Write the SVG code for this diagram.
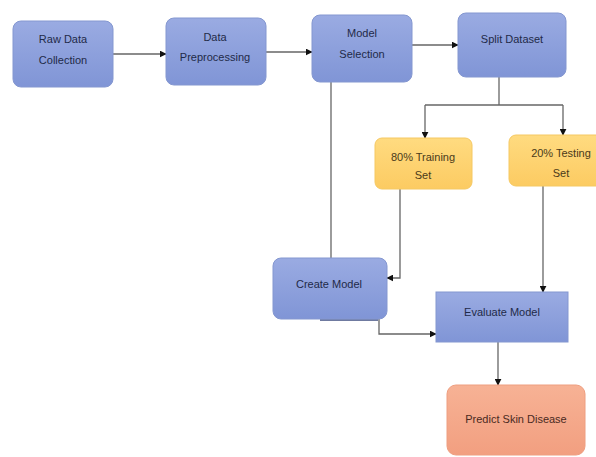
<svg xmlns="http://www.w3.org/2000/svg" width="596" height="457" viewBox="0 0 596 457">
<defs>
<linearGradient id="gBlue" x1="0" y1="0" x2="0" y2="1"><stop offset="0" stop-color="#9AABE2"/><stop offset="1" stop-color="#8095D6"/></linearGradient>
<linearGradient id="gYellow" x1="0" y1="0" x2="0" y2="1"><stop offset="0" stop-color="#FFDB80"/><stop offset="1" stop-color="#FCCB62"/></linearGradient>
<linearGradient id="gSalmon" x1="0" y1="0" x2="0" y2="1"><stop offset="0" stop-color="#F7B295"/><stop offset="1" stop-color="#F29F80"/></linearGradient>
<marker id="arr" viewBox="0 0 10 10" refX="9" refY="5" markerWidth="7" markerHeight="7" orient="auto" markerUnits="userSpaceOnUse"><path d="M0,0 L10,5 L0,10 z" fill="#111"/></marker>
</defs>
<style>
.blue{fill:url(#gBlue);stroke:#8497D0;stroke-width:1}
.yellow{fill:url(#gYellow);stroke:#F5C862;stroke-width:1}
.salmon{fill:url(#gSalmon);stroke:#EE9E80;stroke-width:1}
.t{font-family:"Liberation Sans",Arial,sans-serif;font-size:11px;text-anchor:middle;fill:#1F2A48}
.ty{font-family:"Liberation Sans",Arial,sans-serif;font-size:11px;text-anchor:middle;fill:#4A3A1A}
.ts{font-family:"Liberation Sans",Arial,sans-serif;font-size:11px;text-anchor:middle;fill:#4A2A22}
.c{fill:none;stroke:#666;stroke-width:1.3}
.ca{fill:none;stroke:#666;stroke-width:1.3;marker-end:url(#arr)}
</style>
<rect width="596" height="457" fill="#FFFFFF"/>
<g id="connectors">
<path class="ca" d="M113,54 L166,54"/>
<path class="ca" d="M266,52 L312,52"/>
<path class="ca" d="M412,45 L458,45"/>
<path class="c" d="M499,77 L499,105"/>
<path class="c" d="M425,105 L563,105"/>
<path class="ca" d="M425,105 L425,138"/>
<path class="ca" d="M563,105 L563,135"/>
<path class="c" d="M331,82 L331,258"/>
<path class="ca" d="M400,189 L400,278 L387,278"/>
<path class="ca" d="M543,186 L543,292"/>
<path class="ca" d="M379,319 L379,334 L436,334"/>
<path class="ca" d="M498,342 L498,385"/>
<path d="M320,320 L378,320" stroke="#3F4E80" stroke-width="1.5" fill="none"/>
</g>
<g id="raw">
<rect class="blue" x="13" y="21" width="100" height="66" rx="8"/>
<text class="t" x="63" y="43">Raw Data</text>
<text class="t" x="63" y="64">Collection</text>
</g>
<g id="preprocessing">
<rect class="blue" x="166" y="18" width="100" height="67" rx="8"/>
<text class="t" x="215" y="41">Data</text>
<text class="t" x="215" y="61">Preprocessing</text>
</g>
<g id="selection">
<rect class="blue" x="312" y="15" width="100" height="67" rx="8"/>
<text class="t" x="362" y="37">Model</text>
<text class="t" x="362" y="58">Selection</text>
</g>
<g id="split">
<rect class="blue" x="458" y="13" width="108" height="64" rx="8"/>
<text class="t" x="512" y="43">Split Dataset</text>
</g>
<g id="training">
<rect class="yellow" x="375" y="138" width="97" height="51" rx="7"/>
<text class="ty" x="423" y="161">80% Training</text>
<text class="ty" x="423" y="179">Set</text>
</g>
<g id="testing">
<rect class="yellow" x="509" y="135" width="95" height="51" rx="7"/>
<text class="ty" x="561" y="157">20% Testing</text>
<text class="ty" x="561" y="177">Set</text>
</g>
<g id="create">
<rect class="blue" x="273" y="258" width="114" height="61" rx="8"/>
<text class="t" x="329" y="288">Create Model</text>
</g>
<g id="evaluate">
<rect class="blue" x="436" y="292" width="132" height="50"/>
<text class="t" x="502" y="316">Evaluate Model</text>
</g>
<g id="predict">
<rect class="salmon" x="447" y="385" width="138" height="70" rx="9"/>
<text class="ts" x="516" y="423">Predict Skin Disease</text>
</g>
</svg>
